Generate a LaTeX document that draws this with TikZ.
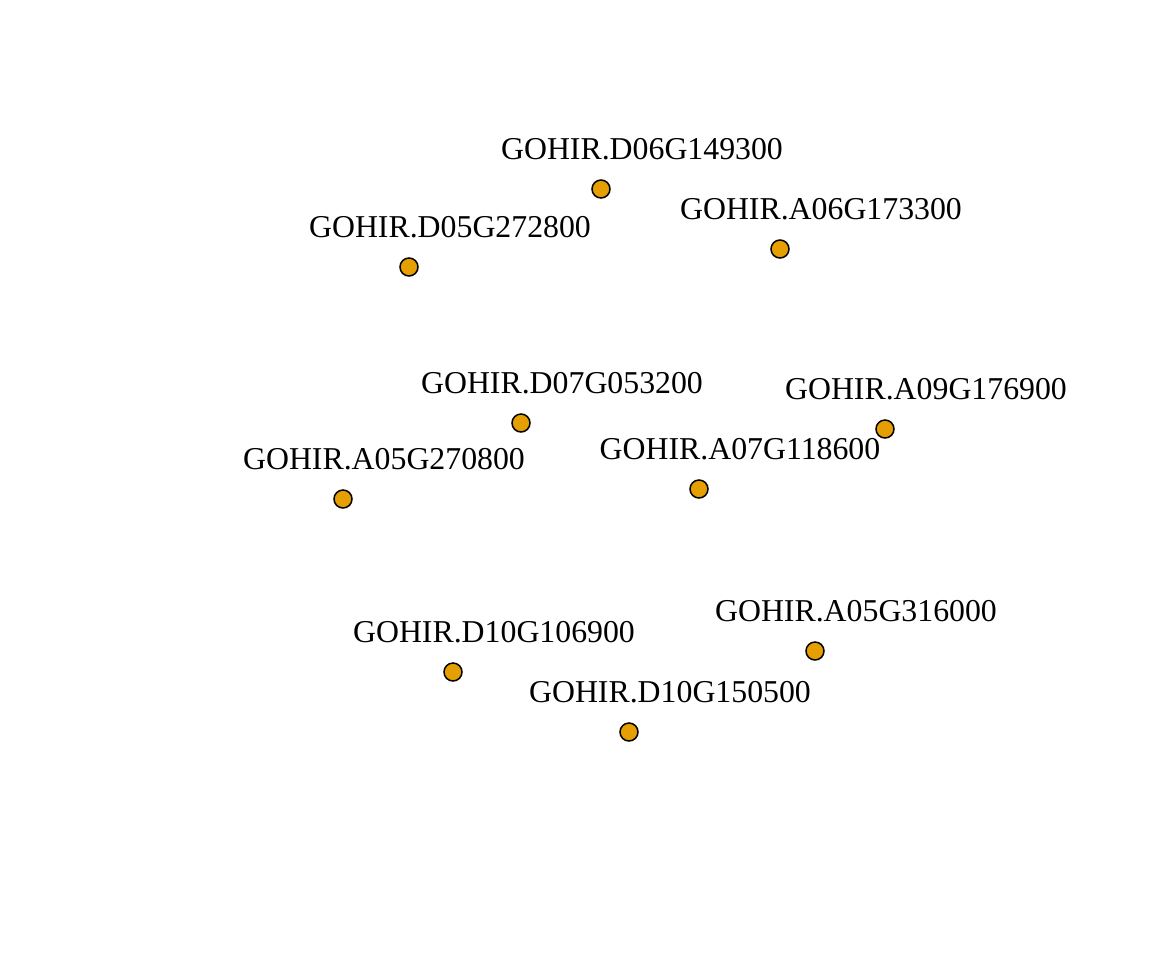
\documentclass[tikz,border=0pt]{standalone}
\usepackage{fontspec}
\setmainfont{Liberation Serif}
\usepackage{tikz}
\definecolor{dotorange}{HTML}{E69F00}

\begin{document}
\begin{tikzpicture}[x=0.5pt, y=-0.5pt,
		dot/.style={circle, draw=black, line width=0.75pt, fill=dotorange, minimum size=9pt, inner sep=0pt},
		lbl/.style={inner sep=0pt, font=\fontsize{15.9}{18}\selectfont}]
		\useasboundingbox (0,0) rectangle (1152,960);
		\path (601,189) node(d06g149300) [dot] {};
		\path (409,267) node(d05g272800) [dot] {};
		\path (780,249) node(a06g173300) [dot] {};
		\path (521,423) node(d07g053200) [dot] {};
		\path (885,429) node(a09g176900) [dot] {};
		\path (343,499) node(a05g270800) [dot] {};
		\path (699,489) node(a07g118600) [dot] {};
		\path (815,651) node(a05g316000) [dot] {};
		\path (453,672) node(d10g106900) [dot] {};
		\path (629,732) node(d10g150500) [dot] {};

		\path (d06g149300) +(41,-40) node(d06g149300_lab) [lbl] {GOHIR.D06G149300};
		\path (d05g272800) +(41,-40) node(d05g272800_lab) [lbl] {GOHIR.D05G272800};
		\path (a06g173300) +(41,-40) node(a06g173300_lab) [lbl] {GOHIR.A06G173300};
		\path (d07g053200) +(41,-40) node(d07g053200_lab) [lbl] {GOHIR.D07G053200};
		\path (a09g176900) +(41,-40) node(a09g176900_lab) [lbl] {GOHIR.A09G176900};
		\path (a05g270800) +(41,-40) node(a05g270800_lab) [lbl] {GOHIR.A05G270800};
		\path (a07g118600) +(41,-40) node(a07g118600_lab) [lbl] {GOHIR.A07G118600};
		\path (a05g316000) +(41,-40) node(a05g316000_lab) [lbl] {GOHIR.A05G316000};
		\path (d10g106900) +(41,-40) node(d10g106900_lab) [lbl] {GOHIR.D10G106900};
		\path (d10g150500) +(41,-40) node(d10g150500_lab) [lbl] {GOHIR.D10G150500};
	\end{tikzpicture}
\end{document}
